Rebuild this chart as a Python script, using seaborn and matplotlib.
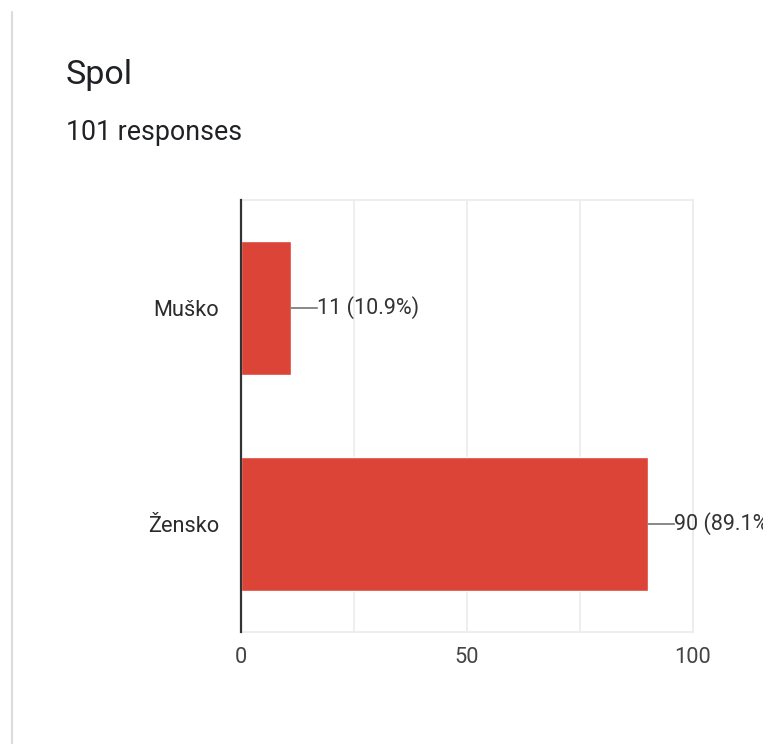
import matplotlib
matplotlib.use("Agg")
import matplotlib.pyplot as plt
from matplotlib.ticker import FixedLocator
from matplotlib.lines import Line2D
from matplotlib.transforms import Bbox, TransformedBbox
import seaborn as sns
import pandas as pd

categories = ["Muško", "Žensko"]
counts = [11, 90]
percents = [10.9, 89.1]
total_responses = 101
title = "Spol"

sns.set_style("white")
plt.rcParams['font.family'] = ['Roboto', 'DejaVu Sans']

BAR = "#DB4437"
TXT = "#202124"
GRID = "#EBEBEB"

df = pd.DataFrame({"cat": categories, "n": counts})

W, H = 776, 744
fig = plt.figure(figsize=(W / 100, H / 100), dpi=100)
ax = fig.add_axes([241 / W, 1 - 632 / H, (693 - 241) / W, (632 - 200) / H])

sns.barplot(data=df, y="cat", x="n", orient="h", color=BAR, saturation=1,
            width=0.616, ax=ax, zorder=3)

ax.set_xlim(0, 100)
ax.set_ylim(1.5, -0.5)
ax.xaxis.set_major_locator(FixedLocator([0, 50, 100]))
ax.xaxis.set_minor_locator(FixedLocator([25, 75]))
ax.grid(True, axis="x", which="both", color=GRID, lw=1.2, zorder=0)
ax.set_xlabel("")
ax.set_ylabel("")
for s in ["top", "right", "bottom"]:
    ax.spines[s].set_color(GRID)
    ax.spines[s].set_linewidth(1.2)
ax.spines["left"].set_color("#333333")
ax.spines["left"].set_linewidth(1.6)
ax.spines["left"].set_zorder(5)
ax.tick_params(axis="x", which="both", length=0, pad=11, labelsize=15.7, labelcolor="#444444")
ax.tick_params(axis="y", length=0, pad=16, labelsize=15.7, labelcolor="#2b2b2b")

clip = TransformedBbox(Bbox([[0, 0], [763 / W, 1]]), fig.transFigure)
for i, (c, p) in enumerate(zip(counts, percents)):
    ax.annotate("", xy=(c, i), xytext=(19, 0), textcoords="offset points",
                annotation_clip=False,
                arrowprops=dict(arrowstyle="-", color="#888888", lw=1.4,
                                shrinkA=0, shrinkB=0))
    t = ax.annotate(f"{c} ({p}%)", xy=(c, i), xytext=(18.6, 0), textcoords="offset points",
                    ha="left", va="center", fontsize=15.5, color="#333333",
                    annotation_clip=False)
    t.set_clip_box(clip)
    t.set_clip_on(True)

fig.text(66 / W, 1 - 84 / H, title, fontsize=24.5, color=TXT, ha="left", va="baseline")
fig.text(66 / W, 1 - 140 / H, f"{total_responses} responses", fontsize=19.3,
         color=TXT, ha="left", va="baseline")

# card border on the left
fig.add_artist(Line2D([12 / W, 12 / W], [0, 1 - 12 / H], transform=fig.transFigure,
                      color="#DADCE0", lw=1.5))

fig.savefig("out.png", dpi=100, facecolor="white")
